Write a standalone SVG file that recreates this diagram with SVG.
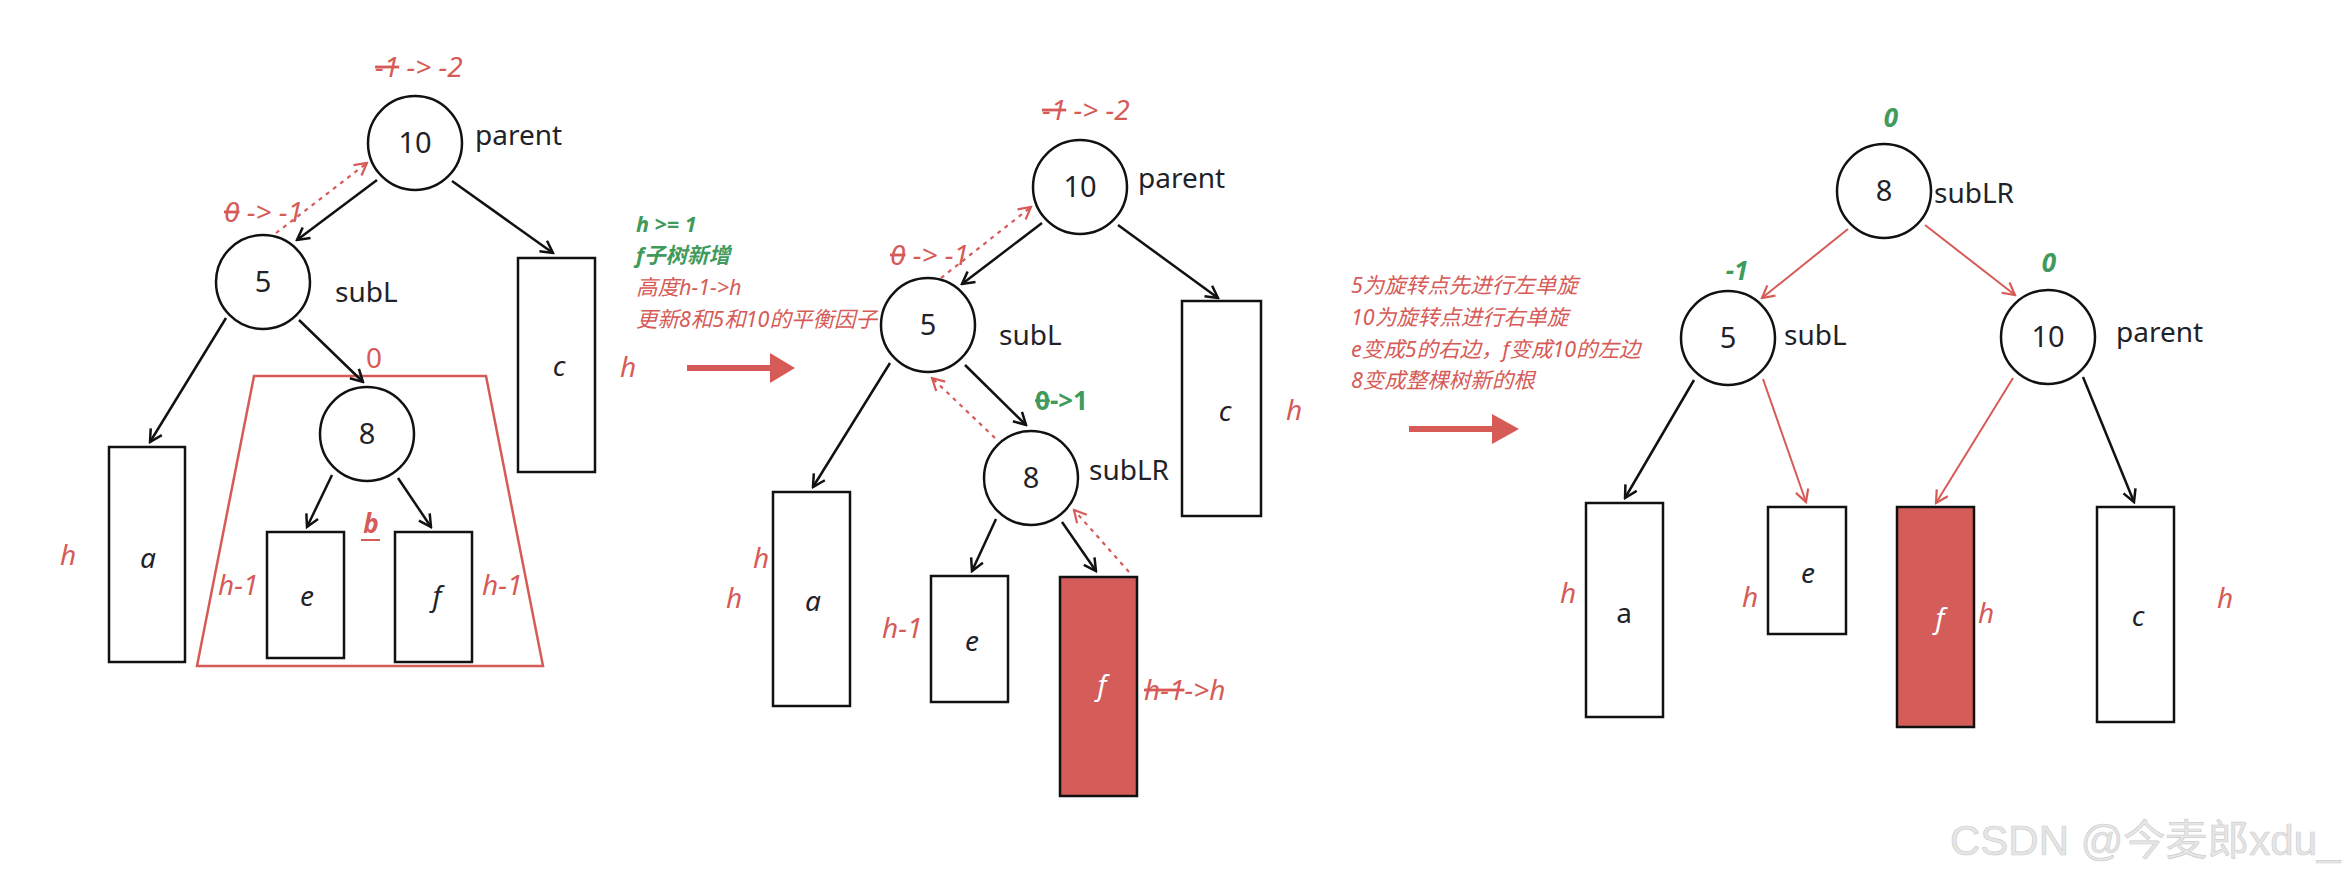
<svg xmlns="http://www.w3.org/2000/svg" width="2349" height="879" viewBox="0 0 2349 879">
<defs>
<style>
.nd{fill:#fff;stroke:#111;stroke-width:2.5}
.fr{fill:#d45d5a;stroke:#111;stroke-width:2.5}
.num{font-family:"Noto Sans","Open Sans",sans-serif;font-size:29px;fill:#1f2329;text-anchor:middle}
.lbl{font-family:"Noto Sans","Open Sans",sans-serif;font-size:28px;fill:#1f2329}
.it{font-family:"Noto Sans","Open Sans",sans-serif;font-size:28px;font-style:italic;fill:#1f2329;text-anchor:middle}
.rh{font-family:"Noto Sans","Open Sans",sans-serif;font-size:28px;font-style:italic;fill:#d65b57}
.gb{font-family:"Noto Sans","Open Sans",sans-serif;font-size:26px;font-weight:bold;font-style:italic;fill:#3f9a5c}
.note{font-family:"Noto Sans","Noto Sans CJK SC",sans-serif;font-size:21.5px;font-style:italic;fill:#d65b57}
.noteg{font-family:"Noto Sans","Noto Sans CJK SC",sans-serif;font-size:21.5px;font-style:italic;font-weight:bold;fill:#3f9a5c}
.st{text-decoration:line-through}
.ek{fill:none;stroke:#111;stroke-width:2.5;marker-end:url(#ab)}
.er{fill:none;stroke:#d65b57;stroke-width:2;marker-end:url(#ar)}
.ed{fill:none;stroke:#d65b57;stroke-width:2.2;stroke-dasharray:4 5;marker-end:url(#ar)}
</style>
<marker id="ab" viewBox="0 0 16 16" refX="14" refY="8" markerWidth="16" markerHeight="16" markerUnits="userSpaceOnUse" orient="auto">
<path d="M2,1.5 L14,8 L2,14.5" fill="none" stroke="#111" stroke-width="2.5"/>
</marker>
<marker id="ar" viewBox="0 0 16 16" refX="14" refY="8" markerWidth="16" markerHeight="16" markerUnits="userSpaceOnUse" orient="auto">
<path d="M2,1.5 L14,8 L2,14.5" fill="none" stroke="#d65b57" stroke-width="2.2"/>
</marker>
</defs>
<rect width="2349" height="879" fill="#fff"/>

<!-- Panel 1 -->
<g id="p1-trap"><polygon points="254,376 486,376 543,666 197,666" fill="none" stroke="#d65b57" stroke-width="2.5"/></g>
<g id="p1-n10"><circle class="nd" cx="415" cy="143" r="47"/><text class="num" x="415" y="153">10</text><text class="lbl" x="475" y="145">parent</text><text class="rh" x="375" y="77"><tspan class="st">-1</tspan> -&gt; -2</text></g>
<g id="p1-n5"><circle class="nd" cx="263" cy="282" r="47"/><text class="num" x="263" y="292">5</text><text class="lbl" x="335" y="302">subL</text><text class="rh" x="224" y="222"><tspan class="st">0</tspan> -&gt; -1</text></g>
<g id="p1-n8"><circle class="nd" cx="367" cy="434" r="47"/><text class="num" x="367" y="444">8</text><text class="rh" x="374" y="368" text-anchor="middle" style="font-style:normal">0</text></g>
<g id="p1-a"><rect class="nd" x="109" y="447" width="76" height="215"/><text class="it" x="148" y="568">a</text><text class="rh" x="68" y="565" text-anchor="middle">h</text></g>
<g id="p1-c"><rect class="nd" x="518" y="258" width="77" height="214"/><text class="it" x="559" y="376">c</text><text class="rh" x="628" y="377" text-anchor="middle">h</text></g>
<g id="p1-e"><rect class="nd" x="267" y="532" width="77" height="126"/><text class="it" x="307" y="606">e</text><text class="rh" x="218" y="595">h-1</text></g>
<g id="p1-f"><rect class="nd" x="395" y="532" width="77" height="130"/><text class="it" x="437" y="606">f</text><text class="rh" x="482" y="595">h-1</text></g>
<g id="p1-b"><text class="gb" x="371" y="533" text-anchor="middle" style="fill:#d65b57">b</text><line x1="361" y1="540" x2="380" y2="540" stroke="#d65b57" stroke-width="2"/></g>

<!-- Panel 2 -->
<g id="p2-note">
<text class="noteg" x="636" y="232">h &gt;= 1</text>
<text class="noteg" x="636" y="263">f子树新增</text>
<text class="note" x="636" y="295">高度h-1-&gt;h</text>
<text class="note" x="636" y="327">更新8和5和10的平衡因子</text>
</g>
<g id="p2-bigarrow"><line x1="687" y1="368" x2="772" y2="368" stroke="#d65b57" stroke-width="6"/><polygon points="770,353 795,368 770,383" fill="#d65b57"/></g>
<g id="p2-n10"><circle class="nd" cx="1080" cy="187" r="47"/><text class="num" x="1080" y="197">10</text><text class="lbl" x="1138" y="188">parent</text><text class="rh" x="1042" y="120"><tspan class="st">-1</tspan> -&gt; -2</text></g>
<g id="p2-n5"><circle class="nd" cx="928" cy="325" r="47"/><text class="num" x="928" y="335">5</text><text class="lbl" x="999" y="345">subL</text><text class="rh" x="890" y="265"><tspan class="st">0</tspan> -&gt; -1</text></g>
<g id="p2-n8"><circle class="nd" cx="1031" cy="478" r="47"/><text class="num" x="1031" y="488">8</text><text class="lbl" x="1089" y="480">subLR</text><text class="gb" x="1035" y="410" style="font-style:normal"><tspan class="st">0</tspan>-&gt;1</text></g>
<g id="p2-a"><rect class="nd" x="773" y="492" width="77" height="214"/><text class="it" x="813" y="611">a</text><text class="rh" x="761" y="568" text-anchor="middle">h</text><text class="rh" x="734" y="608" text-anchor="middle">h</text></g>
<g id="p2-c"><rect class="nd" x="1182" y="301" width="79" height="215"/><text class="it" x="1225" y="421">c</text><text class="rh" x="1294" y="420" text-anchor="middle">h</text></g>
<g id="p2-e"><rect class="nd" x="931" y="576" width="77" height="126"/><text class="it" x="972" y="651">e</text><text class="rh" x="882" y="638">h-1</text></g>
<g id="p2-f"><rect class="fr" x="1060" y="577" width="77" height="219"/><text class="it" x="1102" y="695" style="fill:#fff">f</text><text class="rh" x="1144" y="700"><tspan class="st">h-1</tspan>-&gt;h</text></g>

<!-- Panel 3 -->
<g id="p3-note">
<text class="note" x="1351" y="293">5为旋转点先进行左单旋</text>
<text class="note" x="1351" y="325">10为旋转点进行右单旋</text>
<text class="note" x="1351" y="357">e变成5的右边，f变成10的左边</text>
<text class="note" x="1351" y="388">8变成整棵树新的根</text>
</g>
<g id="p3-bigarrow"><line x1="1409" y1="429" x2="1494" y2="429" stroke="#d65b57" stroke-width="6"/><polygon points="1492,414 1519,429 1492,444" fill="#d65b57"/></g>
<g id="p3-n8"><circle class="nd" cx="1884" cy="191" r="47"/><text class="num" x="1884" y="201">8</text><text class="lbl" x="1934" y="203">subLR</text><text class="gb" x="1891" y="127" text-anchor="middle">0</text></g>
<g id="p3-n5"><circle class="nd" cx="1728" cy="338" r="47"/><text class="num" x="1728" y="348">5</text><text class="lbl" x="1784" y="345">subL</text><text class="gb" x="1737" y="280" text-anchor="middle">-1</text></g>
<g id="p3-n10"><circle class="nd" cx="2048" cy="337" r="47"/><text class="num" x="2048" y="347">10</text><text class="lbl" x="2116" y="342">parent</text><text class="gb" x="2049" y="272" text-anchor="middle">0</text></g>
<g id="p3-a"><rect class="nd" x="1586" y="503" width="77" height="214"/><text class="num" x="1624" y="623" style="font-size:28px">a</text><text class="rh" x="1568" y="603" text-anchor="middle">h</text></g>
<g id="p3-e"><rect class="nd" x="1768" y="507" width="78" height="127"/><text class="it" x="1808" y="583">e</text><text class="rh" x="1750" y="607" text-anchor="middle">h</text></g>
<g id="p3-f"><rect class="fr" x="1897" y="507" width="77" height="220"/><text class="it" x="1940" y="628" style="fill:#fff">f</text><text class="rh" x="1986" y="623" text-anchor="middle">h</text></g>
<g id="p3-c"><rect class="nd" x="2097" y="507" width="77" height="215"/><text class="it" x="2138" y="626">c</text><text class="rh" x="2225" y="608" text-anchor="middle">h</text></g>

<!-- Connectors -->
<g id="connectors">
<path class="ek" d="M377,180 L297,240"/>
<path class="ek" d="M452,181 L553,253"/>
<path class="ek" d="M226,318 L150,442"/>
<path class="ek" d="M299,320 L363,382"/>
<path class="ek" d="M332,475 L307,527"/>
<path class="ek" d="M398,478 L431,527"/>
<path class="ed" d="M276,233 L367,163"/>

<path class="ek" d="M1042,223 L962,284"/>
<path class="ek" d="M1118,225 L1218,298"/>
<path class="ek" d="M890,363 L813,487"/>
<path class="ek" d="M965,365 L1026,425"/>
<path class="ek" d="M996,519 L972,571"/>
<path class="ek" d="M1062,522 L1096,571"/>
<path class="ed" d="M941,278 L1031,207"/>
<path class="ed" d="M995,438 L932,378"/>
<path class="ed" d="M1129,572 L1074,510"/>

<path class="er" d="M1848,229 L1762,298"/>
<path class="er" d="M1925,225 L2015,295"/>
<path class="ek" d="M1694,380 L1625,498"/>
<path class="er" d="M1763,379 L1806,502"/>
<path class="er" d="M2013,378 L1936,503"/>
<path class="ek" d="M2083,377 L2134,502"/>
</g>

<g id="watermark"><text x="1950" y="855" font-family="'Liberation Sans','Noto Sans CJK SC',sans-serif" font-size="42" fill="#e6e6e6" stroke="#cfcfcf" stroke-width="0.7">CSDN @今麦郎xdu_</text></g>
</svg>
